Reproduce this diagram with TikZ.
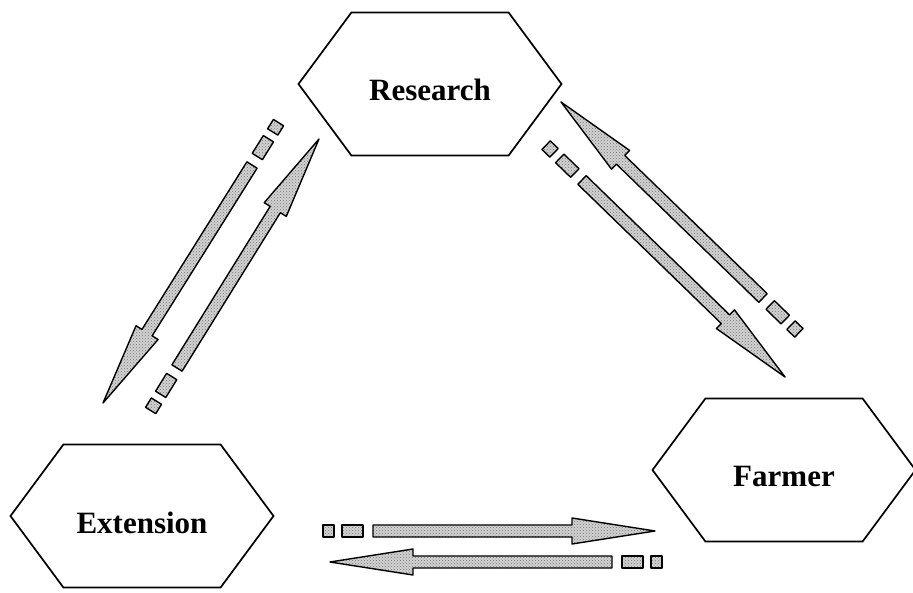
\documentclass[tikz,border=0pt]{standalone}
\usepackage{fontspec}
\setmainfont{Liberation Serif}
\usetikzlibrary{shapes.symbols,calc,patterns}

\def\headlen{83}
\def\headwid{13}
\def\shaftwid{6}

% block arrow from #1 (tail) to #2 (tip), two dashes behind the tail
\newcommand{\flowarrow}[2]{%
  \path let \p1=($(#2)-(#1)$) in
    \pgfextra{\pgfmathsetmacro\arrang{atan2(\y1,\x1)}%
              \pgfmathsetmacro\arrlen{veclen(\x1,\y1)}%
              \global\let\arrang\arrang\global\let\arrlen\arrlen};
  \begin{scope}[shift={(#1)},rotate=\arrang]
    \path[flow] (0,-\shaftwid) -- ({\arrlen-\headlen},-\shaftwid)
      -- ({\arrlen-\headlen},-\headwid) -- (\arrlen,0)
      -- ({\arrlen-\headlen},\headwid) -- ({\arrlen-\headlen},\shaftwid)
      -- (0,\shaftwid) -- cycle;
    \path[flow] (-31,-\shaftwid) rectangle (-10,\shaftwid);
    \path[flow] (-50,-\shaftwid) rectangle (-39,\shaftwid);
  \end{scope}
}

\begin{document}
\begin{tikzpicture}[x=1pt,y=1pt,
    stage/.style={signal, signal to=west and east, signal pointer angle=107,
                  draw, line width=1.7pt, minimum width=263pt, minimum height=143pt,
                  inner sep=0pt, text height=34pt, text depth=0pt,
                  font=\bfseries\fontsize{31}{37}\selectfont},
    flow/.style={draw, line width=1.4pt, line join=round,
                 preaction={fill=gray!35}, pattern=crosshatch dots,
                 pattern color=black!55}]
  \useasboundingbox (0,0) rectangle (913,592);

  \node[stage] (research)  at (430,508) {Research};
  \node[stage] (extension) at (142,76)  {Extension};
  \node[stage] (farmer)    at (784,122) {Farmer};

  % research <-> extension
  \coordinate (re-tail) at (252,427);
  \coordinate (re-tip)  at (103,189);
  \coordinate (er-tail) at (177,224);
  \coordinate (er-tip)  at (319,453);
  % research <-> farmer
  \coordinate (fr-tail) at (763,294);
  \coordinate (fr-tip)  at (561,490);
  \coordinate (rf-tail) at (582,412);
  \coordinate (rf-tip)  at (785,215);
  % extension <-> farmer
  \coordinate (ef-tail) at (373,61);
  \coordinate (ef-tip)  at (655,61);
  \coordinate (fe-tail) at (612,30);
  \coordinate (fe-tip)  at (330,30);

  \flowarrow{re-tail}{re-tip}
  \flowarrow{er-tail}{er-tip}
  \flowarrow{fr-tail}{fr-tip}
  \flowarrow{rf-tail}{rf-tip}
  \flowarrow{ef-tail}{ef-tip}
  \flowarrow{fe-tail}{fe-tip}
\end{tikzpicture}
\end{document}
